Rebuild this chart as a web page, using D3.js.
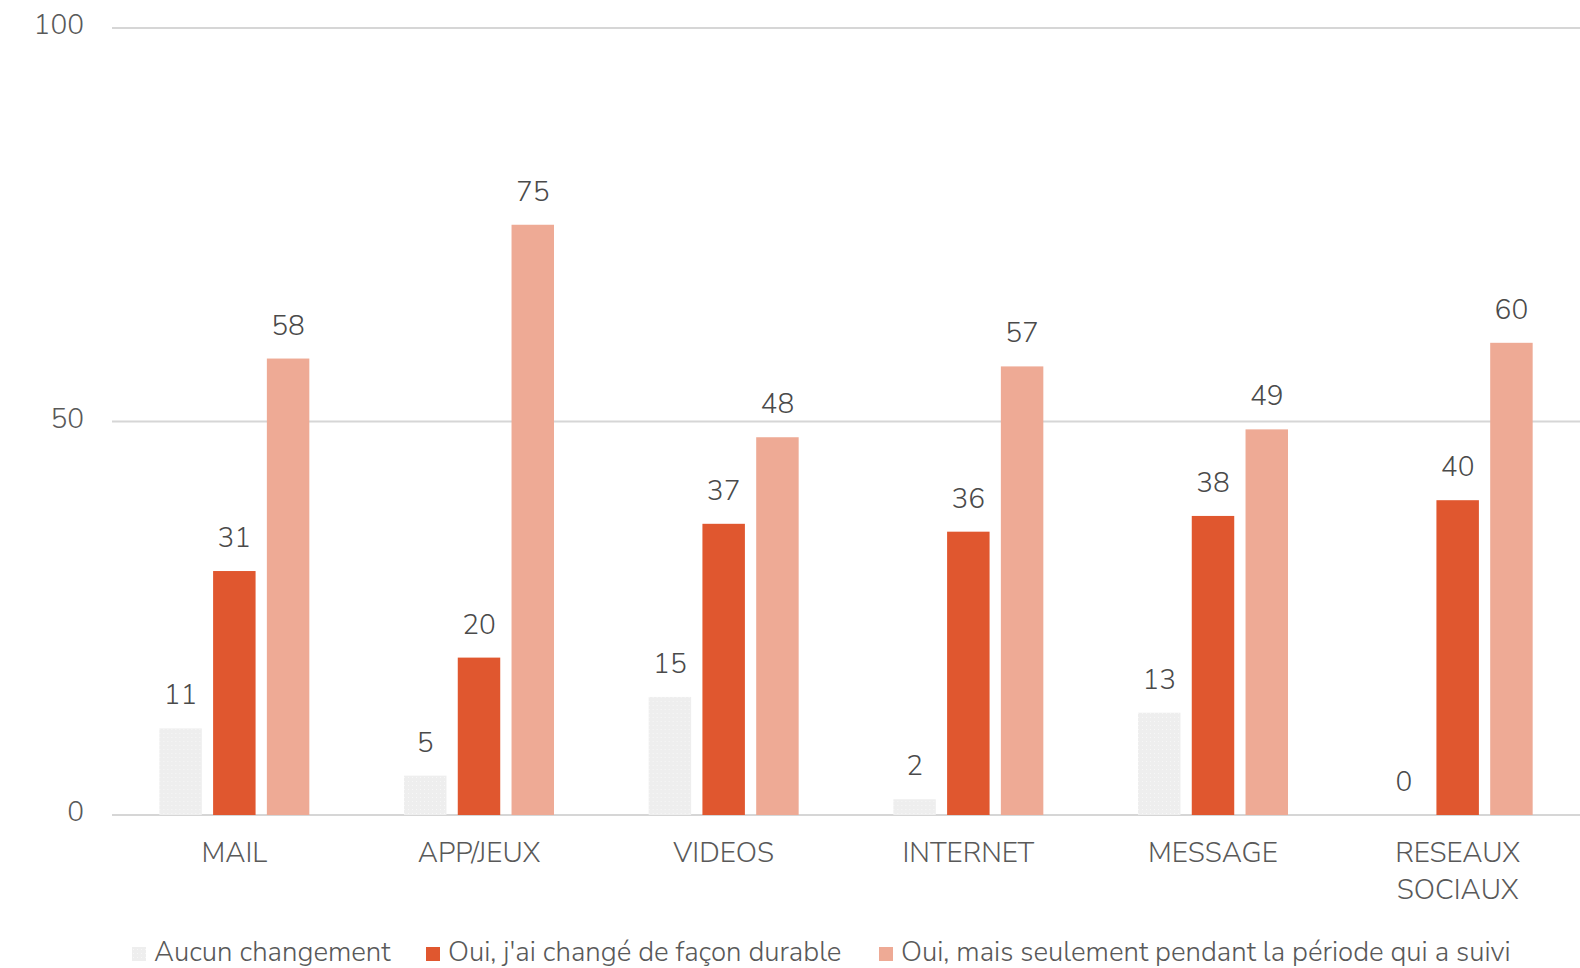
<!DOCTYPE html>
<html><head><meta charset="utf-8">
<script src="https://cdn.jsdelivr.net/npm/d3@7"></script>
<style>
html,body{margin:0;padding:0;background:#fff;}
svg{display:block;font-family:"Nunito Sans",Lato,"Open Sans",sans-serif;font-weight:300;}
</style></head>
<body>
<svg id="chart" width="1580" height="968"></svg>
<script>
const categories = ["MAIL","APP/JEUX","VIDEOS","INTERNET","MESSAGE","RESEAUX SOCIAUX"];
const seriesNames = ["Aucun changement","Oui, j'ai changé de façon durable","Oui, mais seulement pendant la période qui a suivi"];
const aucun = [11,5,15,2,13,0];
const durable = [31,20,37,36,38,40];
const temporaire = [58,75,48,57,49,60];
const yTicks = [0,50,100];

const seriesValues = [aucun, durable, temporaire];
const colors = ["url(#dots)","#e0572f","#eeaa95"];

const svg = d3.select("#chart");
const defs = svg.append("defs");
const pat = defs.append("pattern").attr("id","dots").attr("patternUnits","userSpaceOnUse")
  .attr("width",4).attr("height",4);
pat.append("rect").attr("width",4).attr("height",4).attr("fill","#eeeeee");
pat.append("rect").attr("x",1).attr("y",1).attr("width",1).attr("height",1).attr("fill","#f7f7f7");

const x0 = d3.scaleBand().domain(categories).range([112,1580]).paddingInner(0).paddingOuter(0);
const inner = d3.scaleBand().domain(d3.range(3)).range([-75,75]).paddingInner(0.21).paddingOuter(0);
const y = d3.scaleLinear().domain([0,100]).range([815,28]);

// gridlines
const grid = svg.append("g");
grid.selectAll("line").data(yTicks).join("line")
  .attr("x1",112).attr("x2",1580)
  .attr("y1",d=>y(d)).attr("y2",d=>y(d))
  .attr("stroke","#d6d6d6").attr("stroke-width",2);

// y axis labels
const yAxis = d3.axisLeft(y).tickValues(yTicks).tickSize(0).tickPadding(0);
const ya = svg.append("g").attr("transform","translate(84,-3)").call(yAxis);
ya.attr("font-family",null).attr("font-size",null);
ya.select(".domain").remove();
ya.selectAll("text").attr("font-size",28).attr("fill","#595959");

// bars
const groups = svg.append("g").selectAll("g").data(categories).join("g")
  .attr("transform",c=>`translate(${x0(c)+x0.bandwidth()/2},0)`);
groups.each(function(c,ci){
  const g = d3.select(this);
  seriesValues.forEach((vals,si)=>{
    const v = vals[ci];
    g.append("rect")
      .attr("x",inner(si)).attr("width",inner.bandwidth())
      .attr("y",y(v)).attr("height",y(0)-y(v))
      .attr("fill",colors[si]);
    g.append("text")
      .attr("x",inner(si)+inner.bandwidth()/2)
      .attr("y",y(v)-24)
      .attr("text-anchor","middle")
      .attr("font-size",28).attr("fill","#4a4a4a")
      .text(v);
  });
});

// category axis labels
const xa = svg.append("g");
categories.forEach(c=>{
  const words = c === "RESEAUX SOCIAUX" ? ["RESEAUX","SOCIAUX"] : [c];
  const t = xa.append("text").attr("text-anchor","middle")
    .attr("x",x0(c)+x0.bandwidth()/2).attr("y",862)
    .attr("font-size",28).attr("fill","#595959");
  words.forEach((w,i)=>t.append("tspan").attr("x",x0(c)+x0.bandwidth()/2).attr("dy",i?37:0).text(w));
});

// legend
const legendPos = [132,426,879];
const leg = svg.append("g");
seriesNames.forEach((n,i)=>{
  leg.append("rect").attr("x",legendPos[i]).attr("y",947).attr("width",14).attr("height",14).attr("fill",colors[i]);
  leg.append("text").attr("x",legendPos[i]+22).attr("y",961)
    .attr("font-size",27.6).attr("fill","#595959").text(n);
});
</script>
</body></html>
